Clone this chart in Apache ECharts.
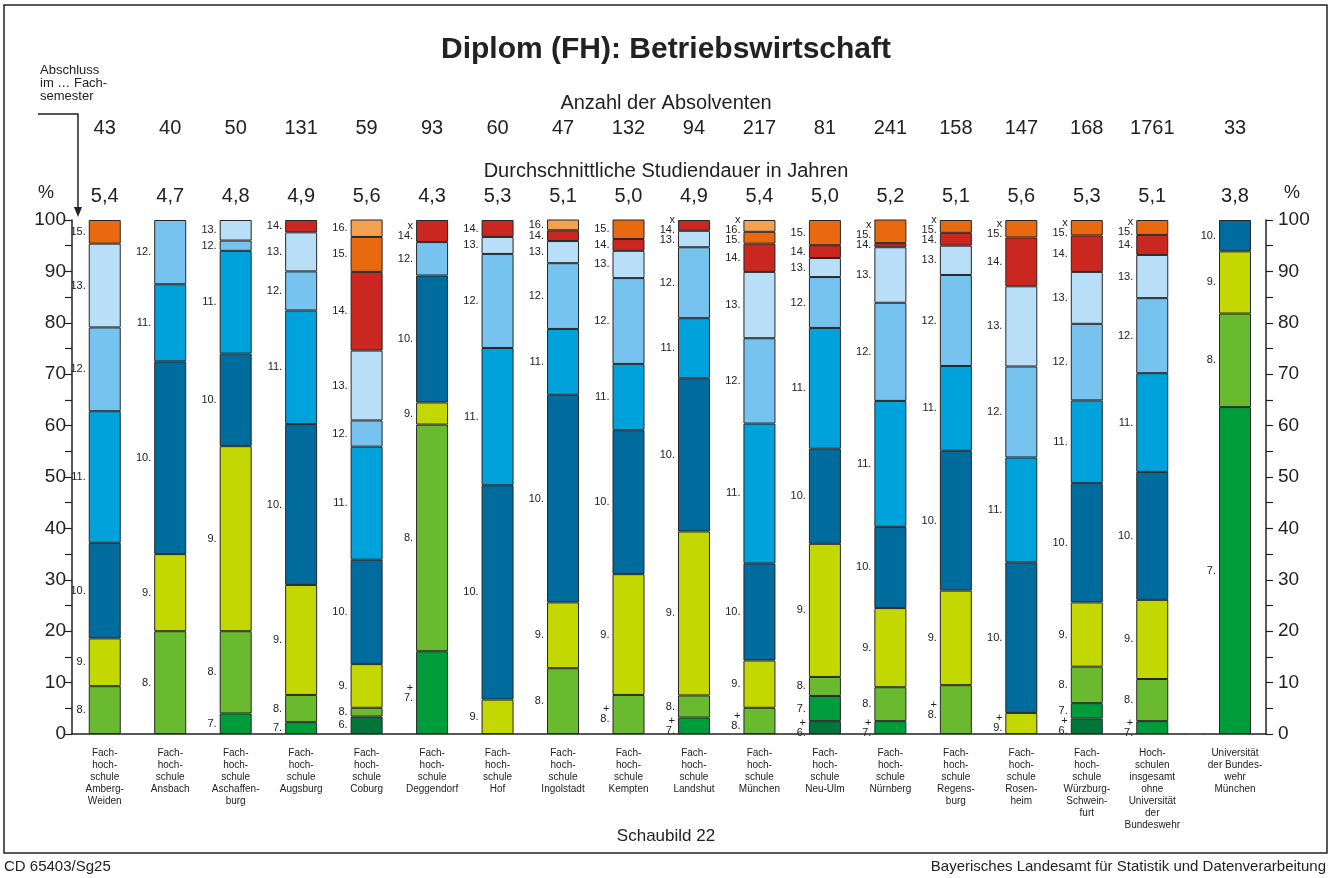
<!DOCTYPE html>
<html>
<head>
<meta charset="utf-8">
<title>Diplom (FH): Betriebswirtschaft</title>
<script src="https://cdn.jsdelivr.net/npm/echarts@6/dist/echarts.min.js"></script>
<style>
html, body { margin: 0; padding: 0; background: #fff; }
#chart { width: 1332px; height: 878px; }
</style>
</head>
<body>
<div id="chart"></div>
<script>
// Hochschulen (17 FH incl. insgesamt) + Universitaet der Bundeswehr separat
var hochschulen = [
	'Fach-\nhoch-\nschule\nAmberg-\nWeiden',
	'Fach-\nhoch-\nschule\nAnsbach',
	'Fach-\nhoch-\nschule\nAschaffen-\nburg',
	'Fach-\nhoch-\nschule\nAugsburg',
	'Fach-\nhoch-\nschule\nCoburg',
	'Fach-\nhoch-\nschule\nDeggendorf',
	'Fach-\nhoch-\nschule\nHof',
	'Fach-\nhoch-\nschule\nIngolstadt',
	'Fach-\nhoch-\nschule\nKempten',
	'Fach-\nhoch-\nschule\nLandshut',
	'Fach-\nhoch-\nschule\nMünchen',
	'Fach-\nhoch-\nschule\nNeu-Ulm',
	'Fach-\nhoch-\nschule\nNürnberg',
	'Fach-\nhoch-\nschule\nRegens-\nburg',
	'Fach-\nhoch-\nschule\nRosen-\nheim',
	'Fach-\nhoch-\nschule\nWürzburg-\nSchwein-\nfurt',
	'Hoch-\nschulen\ninsgesamt\nohne\nUniversität\nder\nBundeswehr'
];
var uniBw = ['Universität\nder Bundes-\nwehr\nMünchen'];

var absolventen = [43, 40, 50, 131, 59, 93, 60, 47, 132, 94, 217, 81, 241, 158, 147, 168, 1761, 33];
var studiendauer = ['5,4', '4,7', '4,8', '4,9', '5,6', '4,3', '5,3', '5,1', '5,0', '4,9', '5,4', '5,0', '5,2', '5,1', '5,6', '5,3', '5,1', '3,8'];

// Anteil (%) Abschluss im ... Fachsemester, letzte Stelle = Uni Bundeswehr
var semester = ['6', '7', '8', '9', '10', '11', '12', '13', '14', '15', '16'];
var sem6  = [null, null, null, null, 3.4, null, null, null, null, null, null, 2.5, null, null, null, 3.0, null, null];
var sem7  = [null, null, 4, 2.3, null, 16.1, null, null, null, 3.2, null, 4.9, 2.5, null, null, 3.0, 2.5, 63.6];
var sem8  = [9.3, 20, 16, 5.3, 1.7, 44.1, null, 12.8, 7.6, 4.3, 5.1, 3.7, 6.6, 9.5, null, 7.1, 8.2, 18.2];
var sem9  = [9.3, 15, 36, 21.4, 8.5, 4.3, 6.7, 12.8, 23.5, 31.9, 9.2, 25.9, 15.4, 18.4, 4.1, 12.5, 15.4, 12.1];
var sem10 = [18.6, 37.5, 18, 31.3, 20.3, 24.7, 41.7, 40.4, 28.0, 29.8, 18.9, 18.5, 15.8, 27.2, 29.3, 23.2, 24.9, 6.1];
var sem11 = [25.6, 15, 20, 22.1, 22.0, null, 26.7, 12.8, 12.9, 11.7, 27.2, 23.5, 24.5, 16.5, 20.4, 16.1, 19.2, null];
var sem12 = [16.3, 12.5, 2, 7.6, 5.1, 6.5, 18.3, 12.8, 16.7, 13.8, 16.6, 9.9, 19.1, 17.7, 17.7, 14.9, 14.6, null];
var sem13 = [16.3, null, 4, 7.6, 13.6, null, 3.3, 4.3, 5.3, 3.2, 12.9, 3.7, 10.8, 5.7, 15.6, 10.1, 8.4, null];
var sem14 = [null, null, null, 2.4, 15.3, 4.3, 3.3, 2.1, 2.3, 2.1, 5.5, 2.5, 0.8, 2.5, 9.5, 7.1, 3.9, null];
var sem15 = [4.6, null, null, null, 6.8, null, null, null, 3.8, null, 2.3, 4.9, 4.6, 2.5, 3.4, 3.0, 2.9, null];
var sem16 = [null, null, null, null, 3.4, null, null, 2.1, null, null, 2.3, null, null, null, null, null, null, null];

// "+" = und frueher (unterstes Semester), "x" = Wert geheim (oberstes)
var plusMark = [0, 0, 0, 0, 0, 1, 0, 0, 1, 1, 1, 1, 1, 1, 1, 1, 1, 0];
var xMark    = [0, 0, 0, 0, 0, 1, 0, 0, 0, 1, 1, 0, 1, 1, 1, 1, 1, 0];

var farben = ['#00763a', '#009c3b', '#6aba2f', '#c2d800', '#006b9d', '#00a2dc', '#76c3ef', '#b9def7', '#c9271f', '#e8690f', '#f4a251'];

var semData = [sem6, sem7, sem8, sem9, sem10, sem11, sem12, sem13, sem14, sem15, sem16];

var FONT = '"Liberation Sans", Arial, sans-serif';
var gridTop = 220, gridBottom = 144;
var g1Left = 72, g1Width = 1113;
var g2Left = 1204, g2Width = 62;
var ppp = (878 - gridTop - gridBottom) / 100; // px je Prozent
var lineH = 10;

// Beschriftungen links neben den Segmenten, Ueberlappungen nach oben/unten schieben
var labelInfo = semData.map(function() { return []; });
for (var i = 0; i < absolventen.length; i++) {
	var items = [];
	var cum = 0;
	for (var k = 0; k < semData.length; k++) {
		var v = semData[k][i];
		if (v == null) continue;
		items.push({ k: k, c: cum + v / 2 });
		cum += v;
	}
	items.forEach(function(it, j) {
		var t = semester[it.k] + '.';
		if (j == 0 && plusMark[i]) t = '+\n' + t;
		if (j == items.length - 1 && xMark[i]) t = 'x\n' + t;
		it.text = t;
		it.h = t.split('\n').length * lineH / ppp;
	});
	for (var j = 0; j < items.length; j++) {
		var p = items[j].c;
		if (j == 0) p = Math.max(p, items[j].h / 2 - 1.2);
		else p = Math.max(p, items[j - 1].p + (items[j - 1].h + items[j].h) / 2);
		items[j].p = p;
	}
	for (var j = items.length - 1; j >= 0; j--) {
		if (j == items.length - 1) items[j].p = Math.min(items[j].p, 101 - items[j].h / 2);
		else items[j].p = Math.min(items[j].p, items[j + 1].p - (items[j + 1].h + items[j].h) / 2);
	}
	items.forEach(function(it) {
		labelInfo[it.k][i] = { text: it.text, dy: -(it.p - it.c) * ppp };
	});
}

function buildData(k, from, to) {
	var out = [];
	for (var i = from; i < to; i++) {
		var v = semData[k][i];
		if (v == null) { out.push(null); continue; }
		var li = labelInfo[k][i];
		out.push({ value: v, label: { formatter: li.text, offset: [0, li.dy] } });
	}
	return out;
}

var series = [];
semester.forEach(function(s, k) {
	[0, 1].forEach(function(g) {
		series.push({
			name: s,
			type: 'bar',
			stack: g == 0 ? 'fh' : 'ub',
			xAxisIndex: g == 0 ? 0 : 3,
			yAxisIndex: g,
			barWidth: 32,
			itemStyle: { color: farben[k], borderColor: '#262626', borderWidth: 1 },
			label: {
				show: true, position: 'left', distance: 3,
				fontFamily: FONT, fontSize: 11, lineHeight: lineH, color: '#222'
			},
			data: g == 0 ? buildData(k, 0, 17) : buildData(k, 17, 18)
		});
	});
});

function topAxis(grid, labels, offset) {
	return {
		type: 'category', gridIndex: grid, position: 'top', offset: offset,
		data: labels,
		axisLine: { show: false }, axisTick: { show: false },
		axisLabel: { margin: 8, fontFamily: FONT, fontSize: 20, color: '#222' }
	};
}
function bottomAxis(grid, labels) {
	return {
		type: 'category', gridIndex: grid, data: labels,
		axisLine: { lineStyle: { color: '#222', width: 1.5 } },
		axisTick: { show: false },
		axisLabel: { margin: 13, interval: 0, fontFamily: FONT, fontSize: 10, lineHeight: 12, color: '#222' }
	};
}
function valAxis(grid, pos) {
	return {
		type: 'value', gridIndex: grid, position: pos, min: 0, max: 100, interval: 10,
		axisLine: { show: true, lineStyle: { color: '#222', width: 1.5 } },
		axisTick: { show: true, length: 7, lineStyle: { color: '#222', width: 1.2 } },
		minorTick: { show: true, splitNumber: 2, length: 7, lineStyle: { color: '#222', width: 1.2 } },
		splitLine: { show: false },
		axisLabel: { margin: pos == 'right' ? 12 : 6, fontFamily: FONT, fontSize: 19, color: '#222' }
	};
}

var option = {
	animation: false,
	backgroundColor: '#fff',
	textStyle: { fontFamily: FONT },
	title: [
		{ text: 'Diplom (FH): Betriebswirtschaft', left: 'center', top: 30, textStyle: { fontFamily: FONT, fontSize: 30, fontWeight: 'bold', color: '#222' } },
		{ text: 'Anzahl der Absolventen', left: 'center', top: 88, textStyle: { fontFamily: FONT, fontSize: 20, fontWeight: 'normal', color: '#222' } },
		{ text: 'Durchschnittliche Studiendauer in Jahren', left: 'center', top: 156, textStyle: { fontFamily: FONT, fontSize: 20, fontWeight: 'normal', color: '#222' } },
		{ text: 'Schaubild 22', left: 'center', top: 823, textStyle: { fontFamily: FONT, fontSize: 17, fontWeight: 'normal', color: '#222' } },
		{ text: 'CD 65403/Sg25', left: 4, top: 859, padding: 0, textStyle: { fontFamily: FONT, fontSize: 15, fontWeight: 'normal', color: '#222' } },
		{ text: 'Bayerisches Landesamt für Statistik und Datenverarbeitung', right: 6, top: 859, padding: 0, textStyle: { fontFamily: FONT, fontSize: 15, fontWeight: 'normal', color: '#222' } }
	],
	grid: [
		{ left: g1Left, width: g1Width, top: gridTop, bottom: gridBottom },
		{ left: g2Left, width: g2Width, top: gridTop, bottom: gridBottom }
	],
	xAxis: [
		bottomAxis(0, hochschulen),
		topAxis(0, absolventen.slice(0, 17), 74),
		topAxis(0, studiendauer.slice(0, 17), 6),
		bottomAxis(1, uniBw),
		topAxis(1, absolventen.slice(17), 74),
		topAxis(1, studiendauer.slice(17), 6)
	],
	yAxis: [valAxis(0, 'left'), valAxis(1, 'right')],
	series: series,
	graphic: [
		{ type: 'rect', shape: { x: 4, y: 5, width: 1323, height: 848 }, style: { fill: 'none', stroke: '#222', lineWidth: 1.5 }, silent: true },
		{ type: 'text', left: 40, top: 64, style: { text: 'Abschluss\nim … Fach-\nsemester', font: '13px ' + FONT, lineHeight: 13, fill: '#222' } },
		{ type: 'polyline', shape: { points: [[38, 114], [78, 114], [78, 208]] }, style: { stroke: '#222', lineWidth: 1.5, fill: 'none' } },
		{ type: 'polygon', shape: { points: [[74, 207], [82, 207], [78, 217]] }, style: { fill: '#222' } },
		{ type: 'text', left: 38, top: 184, style: { text: '%', font: '18px ' + FONT, fill: '#222' } },
		{ type: 'text', left: 1284, top: 184, style: { text: '%', font: '18px ' + FONT, fill: '#222' } },
		{ type: 'line', shape: { x1: g1Left + g1Width, y1: 878 - gridBottom, x2: g2Left, y2: 878 - gridBottom }, style: { stroke: '#222', lineWidth: 1.5 } }
	]
};

var myChart = echarts.init(document.getElementById('chart'));
myChart.setOption(option);
</script>
</body>
</html>
